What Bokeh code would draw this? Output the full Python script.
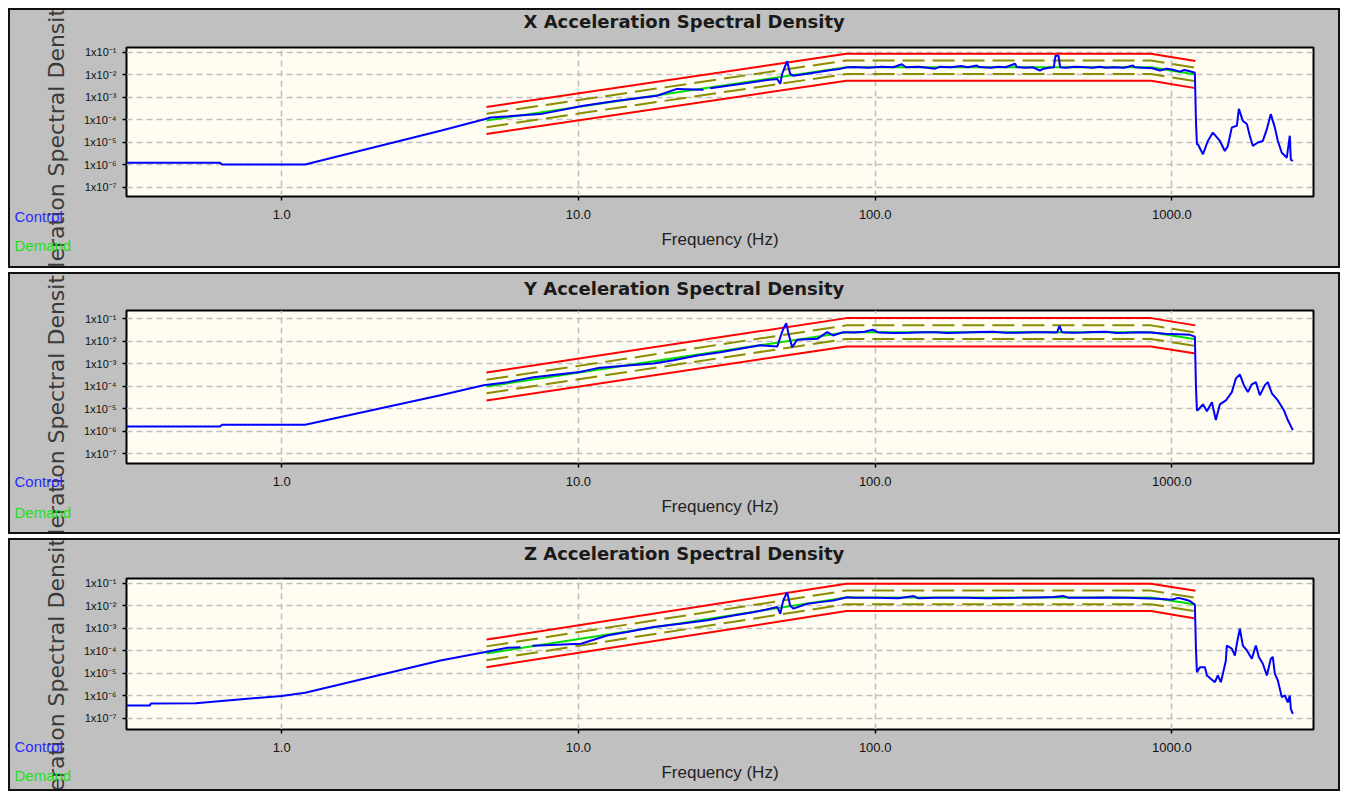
import math
from bokeh.plotting import figure
from bokeh.models import FixedTicker, Label
from bokeh.layouts import column, row
from bokeh.embed import file_html
from bokeh.resources import INLINE

NAN = float("nan")

# ---------------- axes / ticks ----------------
x_tick_values = [1, 10, 100, 1000]
x_tick_labels = ["1.0", "10.0", "100.0", "1000.0"]
y_tick_values = [1e-1, 1e-2, 1e-3, 1e-4, 1e-5, 1e-6, 1e-7]
y_tick_labels = ["1x10\u207b\u00b9", "1x10\u207b\u00b2", "1x10\u207b\u00b3", "1x10\u207b\u2074",
                 "1x10\u207b\u2075", "1x10\u207b\u2076", "1x10\u207b\u2077"]

titles = ["X Acceleration Spectral Density", "Y Acceleration Spectral Density",
          "Z Acceleration Spectral Density"]
x_label = "Frequency (Hz)"
y_label = "Acceleration Spectral Density"
legend_names = ["Control", "Demand"]

# ---------------- demand profile and limits (breakpoints) ----------------
demand_f = [4.9, 80, 850, 1200]

x_demand = [9.5e-5, 0.022, 0.022, 0.0105]
x_abort_hi = [3.8e-4, 0.088, 0.088, 0.042]
x_abort_lo = [2.4e-5, 0.0055, 0.0055, 0.0026]
x_alarm_hi = [1.9e-4, 0.044, 0.044, 0.021]
x_alarm_lo = [4.8e-5, 0.011, 0.011, 0.0053]

y_demand = [9.5e-5, 0.025, 0.025, 0.012]
y_abort_hi = [4.0e-4, 0.105, 0.105, 0.05]
y_abort_lo = [2.3e-5, 0.0058, 0.0058, 0.0028]
y_alarm_hi = [1.9e-4, 0.05, 0.05, 0.024]
y_alarm_lo = [4.8e-5, 0.0125, 0.0125, 0.006]

z_demand = [7.8e-5, 0.024, 0.024, 0.0115]
z_abort_hi = [3.2e-4, 0.098, 0.098, 0.047]
z_abort_lo = [1.9e-5, 0.0059, 0.0059, 0.0028]
z_alarm_hi = [1.6e-4, 0.048, 0.048, 0.023]
z_alarm_lo = [3.9e-5, 0.012, 0.012, 0.0058]

# ---------------- control (measured) spectra ----------------
x_ctrl_f = [0.3, 0.62, 0.63, 1.2, 3.43, 4.86, 5.05, 7.45, 10.4, 13.5, 18.4, 21.5, 26.4, NAN,
            27.8, 35.1, 43.3, 46.8, 47.9, 48.6, 50.5, 51.7, 53.0, 59.0, 72.2, 76.2, 80.5,
            85, 95, 105, 115, 123, 127, 140, 150, 159, 165, 180, 195, 205, 220, 225, 245, 260,
            275, 296, 300, 320, 340, 359, 370, 385, 400, 405, 415, 420, 440, 470, 500, 540,
            570, 600, 640, 690, 739, 750, 800, 860, 911, 960, 1000, 1064, 1100, 1150, 1195,
            1205, 1214,
            1223, 1272, 1322, 1374, 1451, 1508, 1543, 1592, 1655, 1681, 1734, 1789, 1830,
            1873, 1948, 2025, 2089, 2154, 2222, 2275, 2346, 2439, 2496, 2516, 2555]
x_ctrl_v = [1.26e-6, 1.26e-6, 1.05e-6, 1.05e-6, 3.3e-5, 1.1e-4, 1.29e-4, 1.82e-4, 4.27e-4, 7.2e-4,
            1.2e-3, 2.4e-3, 2.19e-3, NAN,
            2.57e-3, 3.98e-3, 6.0e-3, 6.6e-3, 4.0e-3, 0.0112, 0.041, 0.0112, 0.0093, 0.0112, 0.017,
            0.0186, 0.0219,
            0.0224, 0.0209, 0.0234, 0.0219, 0.030, 0.0219, 0.0229, 0.0209, 0.019, 0.0229, 0.0219,
            0.0251, 0.0219, 0.0263, 0.0224, 0.0209, 0.0229,
            0.0219, 0.0316, 0.0224, 0.0209, 0.0219, 0.0158, 0.019, 0.0209, 0.0219, 0.0708, 0.0708,
            0.0219, 0.0209, 0.0229, 0.0224, 0.0209,
            0.0229, 0.0209, 0.0219, 0.0209, 0.0263, 0.0219, 0.0209, 0.020, 0.0158, 0.019, 0.0174,
            0.0141, 0.0166, 0.0145, 0.0126,
            9.1e-5, 8.3e-6,
            8.3e-6, 3.0e-6, 1.17e-5, 2.75e-5, 1.17e-5, 4.2e-6, 6.9e-6, 4.7e-5, 5.5e-5, 3.1e-4,
            9.1e-5, 6.6e-5, 2.0e-5, 7.1e-6, 1.0e-5, 1.17e-5, 3.9e-5, 1.82e-4, 4.7e-5, 1.17e-5,
            3.5e-6, 2.1e-6, 2.0e-5, 1.74e-6, 1.5e-6]

y_ctrl_f = [0.3, 0.62, 0.63, 1.2, 3.43, 4.79, 5.77, 7.06, 10.1, 11.6, 14.6, 17.9, 20.9, 25.2,
            30.1, 35.1, 41.0, 46.8, 47.9, 49.0, 50.2, 50.9, 52.5, 54.6, 63.8, 68.9, 72.2, 78.0,
            85, 92, 98, 103, 115, 130, 145, 160, 175, 200, 225, 250, 275, 300, 340, 380, 410,
            418, 426, 460, 500, 550, 600, 650, 700, 780, 850, 950, 1050, 1150, 1195, 1205, 1214,
            1223, 1272, 1312, 1364, 1406, 1451, 1520, 1592, 1643, 1694, 1748, 1803, 1859, 1918,
            1979, 2057, 2105, 2171, 2275, 2384, 2458, 2555]
y_ctrl_v = [1.6e-6, 1.6e-6, 1.9e-6, 1.9e-6, 3.9e-5, 1.1e-4, 1.5e-4, 2.5e-4, 4.2e-4, 6.3e-4,
            8.3e-4, 1.0e-3, 1.4e-3, 2.3e-3,
            3.2e-3, 4.6e-3, 6.5e-3, 5.8e-3, 0.0148, 0.035, 0.062, 0.025, 0.0054, 0.0115, 0.0126,
            0.025, 0.0178, 0.025,
            0.024, 0.026, 0.032, 0.024, 0.0229, 0.0234, 0.0245, 0.025, 0.0229, 0.024, 0.0251,
            0.026, 0.0234, 0.0234, 0.0245, 0.025, 0.024,
            0.048, 0.025, 0.0234, 0.024, 0.0251, 0.026, 0.0229, 0.0234, 0.0245, 0.024, 0.021,
            0.020, 0.019, 0.0158, 1.0e-4, 8.5e-6,
            8.5e-6, 1.55e-5, 7.6e-6, 1.9e-5, 3.1e-6, 1.55e-5, 2.3e-5, 5.4e-5, 2.2e-4, 3.3e-4,
            1.1e-4, 5.4e-5, 1.2e-4, 1.5e-4,
            3.9e-5, 1.1e-4, 1.5e-4, 4.8e-5, 2.3e-5, 8.5e-6, 3.1e-6, 1.1e-6]

z_ctrl_f = [0.3, 0.36, 0.362, 0.513, 1.0, 1.2, 3.43, 4.86, 5.77, 6.38, NAN,
            7.0, 10.2, 12.5, 14.6, 17.9, 22.1, 27.2, 33.3, 38.8, 46.8, 47.9, 49.0, 50.5, 51.7,
            53.0, 59.0, 65.3, 72.2, 80.5,
            85, 100, 120, 135, 140, 160, 200, 240, 300, 350, 400, 430, 450, 520, 600, 700, 800,
            900, 1000, 1050, 1100, 1150, 1195,
            1205, 1214, 1243, 1292, 1312, 1396, 1428, 1462, 1485, 1520, 1531, 1592, 1630, 1655,
            1694, 1734, 1789, 1859, 1888, 1918, 1963, 2025, 2089, 2154, 2188, 2222, 2275, 2346,
            2402, 2458, 2496, 2516, 2555]
z_ctrl_v = [3.8e-7, 3.8e-7, 4.6e-7, 4.8e-7, 1.0e-6, 1.4e-6, 3.8e-5, 8.9e-5, 1.4e-4, 1.45e-4, NAN,
            1.7e-4, 2.1e-4, 4.9e-4, 6.9e-4, 1.15e-3, 1.6e-3, 2.3e-3, 3.8e-3, 5.2e-3, 8.9e-3,
            4.5e-3, 0.0174, 0.041, 0.0105,
            7.6e-3, 0.0126, 0.0148, 0.0174, 0.0245,
            0.0234, 0.0229, 0.0219, 0.0275, 0.0219, 0.0229, 0.0234, 0.0219, 0.0229, 0.0240,
            0.025, 0.028, 0.0229, 0.0234, 0.024, 0.0229, 0.0219,
            0.0209, 0.019, 0.0229, 0.020, 0.0166, 0.0112,
            1.26e-4, 1.15e-5, 1.9e-5, 1.9e-5, 8.1e-6, 4.1e-6, 8.1e-6, 4.1e-6, 9.8e-6, 3.8e-5,
            1.74e-4, 1.26e-4, 6.3e-5, 2.1e-4,
            9.8e-4, 1.74e-4, 1.05e-4, 4.5e-5, 8.9e-5, 1.74e-4, 5.4e-5, 2.7e-5, 8.1e-6, 4.5e-5,
            5.4e-5, 9.8e-6, 4.9e-6, 8.9e-7,
            1.05e-6, 5.2e-7, 1.05e-6, 2.7e-7, 1.6e-7]

assert len(x_ctrl_f) == len(x_ctrl_v), (len(x_ctrl_f), len(x_ctrl_v))
assert len(y_ctrl_f) == len(y_ctrl_v), (len(y_ctrl_f), len(y_ctrl_v))
assert len(z_ctrl_f) == len(z_ctrl_v), (len(z_ctrl_f), len(z_ctrl_v))

# ---------------- layout (pixels) ----------------
X_MIN, X_MAX = 0.3, 3000
STRIP_W = 70          # left strip holding the vertical title and the legend texts
MAIN_W = 1258         # plot part
TOP_H = 30            # strip holding the panel title
panels = [
    dict(title=titles[0], ctrl_f=x_ctrl_f, ctrl_v=x_ctrl_v, dem=x_demand, ah=x_abort_hi,
         al=x_abort_lo, wh=x_alarm_hi, wl=x_alarm_lo, height=256, top=7, bottom=70,
         ylog=(-7.40, -0.78), title_y=19, ylab_y=109, leg_y=(50, 21)),
    dict(title=titles[1], ctrl_f=y_ctrl_f, ctrl_v=y_ctrl_v, dem=y_demand, ah=y_abort_hi,
         al=y_abort_lo, wh=y_alarm_hi, wl=y_alarm_lo, height=258, top=6, bottom=69,
         ylog=(-7.44, -0.64), title_y=16, ylab_y=108, leg_y=(51, 20)),
    dict(title=titles[2], ctrl_f=z_ctrl_f, ctrl_v=z_ctrl_v, dem=z_demand, ah=z_abort_hi,
         al=z_abort_lo, wh=z_alarm_hi, wl=z_alarm_lo, height=249, top=8, bottom=60,
         ylog=(-7.49, -0.78), title_y=17, ylab_y=102, leg_y=(43, 14)),
]

FONT = "Liberation Sans"
BLUE = "#0000FF"
RED = "#FF0000"
OLIVE = "#8C8C00"
GREEN = "#00E000"
PANEL_GRAY = "#C0C0C0"


def strip(width, height):
    s = figure(width=width, height=height, x_range=(0, width), y_range=(0, height),
               min_border=0, toolbar_location=None, output_backend="svg",
               x_axis_location=None, y_axis_location=None)
    s.background_fill_color = PANEL_GRAY
    s.border_fill_color = PANEL_GRAY
    s.outline_line_color = None
    s.grid.visible = False
    return s


rows = []
for cfg in panels:
    H = cfg["height"]
    ylo, yhi = cfg["ylog"]

    # ---- main plot ----
    p = figure(width=MAIN_W, height=H - TOP_H, x_axis_type="log", y_axis_type="log",
               x_range=(X_MIN, X_MAX), y_range=(10 ** ylo, 10 ** yhi), output_backend="svg",
               toolbar_location=None, min_border_left=44, min_border_right=25,
               min_border_top=cfg["top"], min_border_bottom=cfg["bottom"])
    p.background_fill_color = "#FFFCF2"
    p.border_fill_color = PANEL_GRAY
    p.outline_line_color = "#000000"
    p.outline_line_width = 2

    p.xaxis.ticker = FixedTicker(ticks=x_tick_values)
    p.xaxis.major_label_overrides = dict(zip(x_tick_values, x_tick_labels))
    p.yaxis.ticker = FixedTicker(ticks=y_tick_values)
    p.yaxis.major_label_overrides = dict(zip(y_tick_values, y_tick_labels))
    for ax in (p.xaxis, p.yaxis):
        ax.axis_line_color = None
        ax.major_tick_line_color = "#000000"
        ax.major_tick_line_width = 1.5
        ax.major_tick_in = 0
        ax.major_tick_out = 4
        ax.minor_tick_line_color = None
        ax.major_label_text_font = FONT
        ax.major_label_text_color = "#111111"
    p.xaxis.major_label_text_font_size = "13px"
    p.xaxis.major_label_standoff = 9
    p.xaxis.axis_label = x_label
    p.xaxis.axis_label_text_font = FONT
    p.xaxis.axis_label_text_font_style = "normal"
    p.xaxis.axis_label_text_color = "#222222"
    p.xaxis.axis_label_text_font_size = "17px"
    p.xaxis.axis_label_standoff = 8
    p.yaxis.major_label_text_font_size = "11px"
    p.yaxis.major_label_standoff = 6

    p.xgrid.ticker = FixedTicker(ticks=x_tick_values)
    p.ygrid.ticker = FixedTicker(ticks=y_tick_values)
    for g in (p.xgrid, p.ygrid):
        g.grid_line_color = "#BEBEBE"
        g.grid_line_width = 1.5
        g.grid_line_dash = "6 4"

    # limits and demand
    p.line(demand_f, cfg["ah"], line_color=RED, line_width=2)
    p.line(demand_f, cfg["al"], line_color=RED, line_width=2)
    p.line(demand_f, cfg["wh"], line_color=OLIVE, line_width=2, line_dash="22 8")
    p.line(demand_f, cfg["wl"], line_color=OLIVE, line_width=2, line_dash="22 8")
    p.line(demand_f, cfg["dem"], line_color=GREEN, line_width=2)
    # control
    p.line(cfg["ctrl_f"], cfg["ctrl_v"], line_color=BLUE, line_width=2)

    # ---- title strip ----
    t = strip(MAIN_W, TOP_H)
    t.add_layout(Label(x=591, y=cfg["title_y"], text=cfg["title"], text_font="DejaVu Sans",
                       text_font_size="18px", text_font_style="bold", text_color="#1a1a1a",
                       text_align="center", text_baseline="middle"))

    # ---- left strip: vertical title (overflowing, as in the original) + legend ----
    s = strip(STRIP_W, H)
    s.add_layout(Label(x=46, y=cfg["ylab_y"], text=y_label, angle=math.pi / 2,
                       text_font="DejaVu Sans", text_font_size="22px", text_color="#3a3a3a",
                       text_align="center", text_baseline="middle"))
    s.add_layout(Label(x=4, y=cfg["leg_y"][0], text=legend_names[0], text_color="#2a2aFF",
                       text_font=FONT, text_font_size="15px", text_baseline="middle"))
    s.add_layout(Label(x=4, y=cfg["leg_y"][1], text=legend_names[1], text_color="#18E018",
                       text_font=FONT, text_font_size="15px", text_baseline="middle"))

    rows.append(row(s, column(t, p, spacing=0, styles={"background-color": PANEL_GRAY}),
                    spacing=0,
                    styles={"border": "2px solid #111111", "background-color": PANEL_GRAY}))

layout = column(*rows, spacing=4, margin=(8, 0, 0, 8))
open("out.html", "w").write(file_html(layout, INLINE))
